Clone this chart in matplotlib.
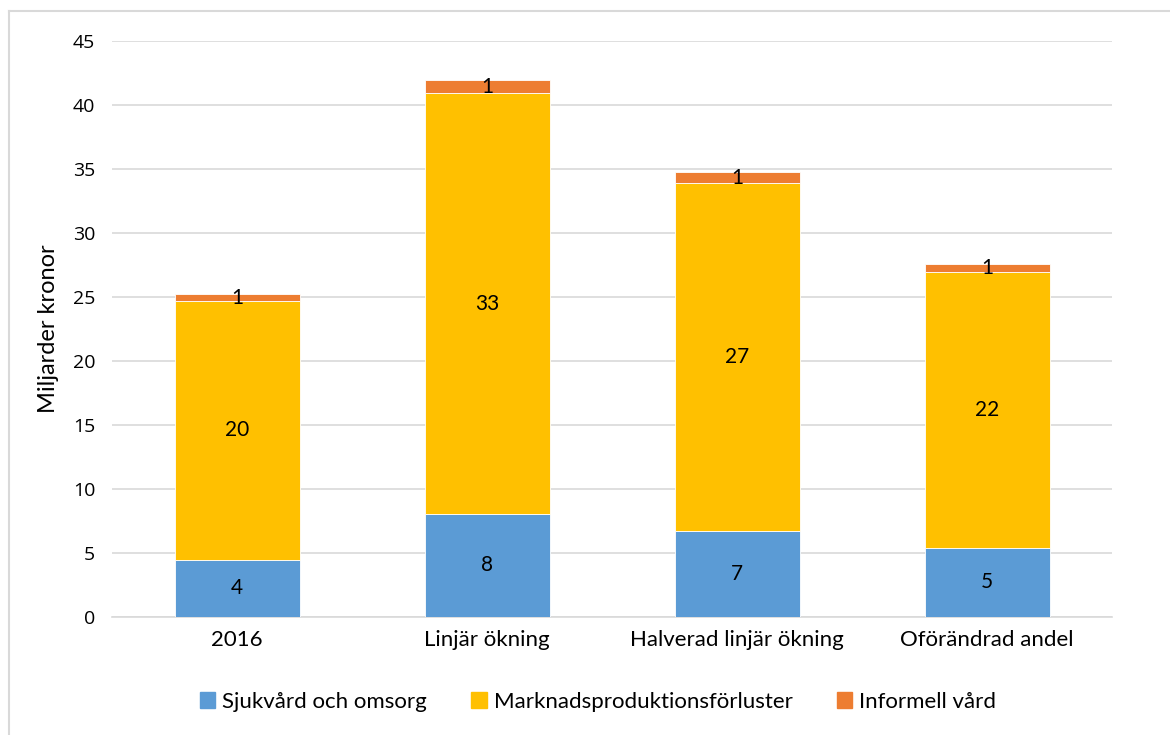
import matplotlib
matplotlib.use("Agg")
import matplotlib.pyplot as plt
from matplotlib.lines import Line2D
import numpy as np

plt.rcParams['font.family'] = ['Lato', 'DejaVu Sans']

categories = ["2016", "Linjär ökning", "Halverad linjär ökning", "Oförändrad andel"]
series_names = ["Sjukvård och omsorg", "Marknadsproduktionsförluster", "Informell vård"]
sjukvard = [4.48, 8.05, 6.72, 5.41]
marknad = [20.21, 32.86, 27.21, 21.52]
informell = [0.52, 1.02, 0.81, 0.65]
y_ticks = [0, 5, 10, 15, 20, 25, 30, 35, 40, 45]

colors = ["#5B9BD5", "#FFC000", "#ED7D31"]

fig = plt.figure(figsize=(11.7, 7.35), dpi=100)
ax = fig.add_axes([112 / 1170, 1 - 617 / 735, 1000 / 1170, 576 / 735])

x = np.arange(len(categories))
bottom = np.zeros(len(categories))
for name, vals, col in zip(series_names, [sjukvard, marknad, informell], colors):
    vals = np.array(vals)
    ax.bar(x, vals, width=0.5, bottom=bottom, color=col, label=name,
           edgecolor="white", linewidth=0.6, zorder=3)
    for xi, b, v in zip(x, bottom, vals):
        ax.text(xi, b + v / 2, "%.0f" % v, ha="center", va="center",
                fontsize=15, color="#000000", zorder=4)
    bottom = bottom + vals

ax.set_xlim(-0.5, 3.5)
ax.set_ylim(0, 45)
ax.set_yticks(y_ticks)
ax.set_yticklabels([str(t) for t in y_ticks], fontsize=14, family=['Open Sans', 'DejaVu Sans'])
ax.set_xticks(x)
ax.set_xticklabels(categories, fontsize=16)
ax.tick_params(axis="both", length=0, pad=12, colors="#000000")
ax.tick_params(axis="x", pad=9)
ax.yaxis.grid(True, color="#D9D9D9", linewidth=1.2, zorder=0)
ax.set_axisbelow(True)
for s in ["top", "right", "left"]:
    ax.spines[s].set_visible(False)
ax.spines["bottom"].set_color("#D9D9D9")
ax.spines["bottom"].set_linewidth(1.2)
ax.set_ylabel("Miljarder kronor", fontsize=17, labelpad=10)

handles = [plt.Rectangle((0, 0), 1, 1, color=c) for c in colors]
fig.legend(handles, series_names, loc="center", bbox_to_anchor=(598 / 1170, 1 - 702 / 735),
           ncol=3, frameon=False, fontsize=16, handlelength=0.7, handleheight=0.7,
           handletextpad=0.3, columnspacing=2.0)

# outer frame (left and top edges)
fig.add_artist(Line2D([9 / 1170, 9 / 1170], [0, 1 - 11 / 735], transform=fig.transFigure,
                      color="#D9D9D9", linewidth=1.5))
fig.add_artist(Line2D([9 / 1170, 1], [1 - 11 / 735, 1 - 11 / 735], transform=fig.transFigure,
                      color="#D9D9D9", linewidth=1.5))

fig.savefig("out.png", dpi=100)
